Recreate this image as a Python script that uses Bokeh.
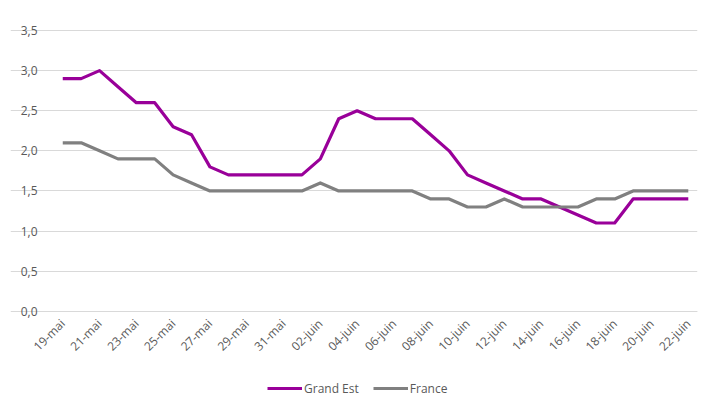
from bokeh.plotting import figure
from bokeh.models import FixedTicker, Legend, LegendItem, Range1d, LinearAxis, Grid
from bokeh.embed import file_html
from bokeh.resources import INLINE
import math

dates = ["19-mai", "20-mai", "21-mai", "22-mai", "23-mai", "24-mai", "25-mai", "26-mai",
         "27-mai", "28-mai", "29-mai", "30-mai", "31-mai", "01-juin", "02-juin", "03-juin",
         "04-juin", "05-juin", "06-juin", "07-juin", "08-juin", "09-juin", "10-juin", "11-juin",
         "12-juin", "13-juin", "14-juin", "15-juin", "16-juin", "17-juin", "18-juin", "19-juin",
         "20-juin", "21-juin", "22-juin"]
grand_est = [2.9, 2.9, 3.0, 2.8, 2.6, 2.6, 2.3, 2.2, 1.8, 1.7, 1.7, 1.7, 1.7, 1.7, 1.9, 2.4,
             2.5, 2.4, 2.4, 2.4, 2.2, 2.0, 1.7, 1.6, 1.5, 1.4, 1.4, 1.3, 1.2, 1.1, 1.1, 1.4,
             1.4, 1.4, 1.4]
france = [2.1, 2.1, 2.0, 1.9, 1.9, 1.9, 1.7, 1.6, 1.5, 1.5, 1.5, 1.5, 1.5, 1.5, 1.6, 1.5,
          1.5, 1.5, 1.5, 1.5, 1.4, 1.4, 1.3, 1.3, 1.4, 1.3, 1.3, 1.3, 1.3, 1.4, 1.4, 1.5,
          1.5, 1.5, 1.5]
y_ticks = [0.0, 0.5, 1.0, 1.5, 2.0, 2.5, 3.0, 3.5]

x = list(range(len(dates)))
x_lo, x_hi = -0.5, len(dates) - 0.5

# frame extends around the plot area so that axis labels and legend fit inside it
p = figure(frame_width=687, frame_height=387, output_backend="svg", toolbar_location=None,
           x_range=Range1d(x_lo - 2.34, x_hi), y_range=Range1d(-1.2, 3.625),
           x_axis_location=None, y_axis_location=None,
           min_border_left=10, min_border_right=3, min_border_top=20, min_border_bottom=0)

p.outline_line_color = None
p.background_fill_color = "white"
p.grid.visible = False

label_color = "#595959"
fsize = "12px"

# y axis, fixed at the left edge of the plot area
yaxis = LinearAxis(fixed_location=x_lo, bounds=(0, 3.5))
yaxis.ticker = FixedTicker(ticks=y_ticks)
yaxis.major_label_overrides = {t: f"{t:.1f}".replace(".", ",") for t in y_ticks}
yaxis.axis_line_color = None
yaxis.major_tick_line_color = None
yaxis.minor_tick_line_color = None
yaxis.major_label_text_color = label_color
yaxis.major_label_text_font = "Open Sans"
yaxis.major_label_text_font_size = fsize
yaxis.major_label_standoff = 10
p.add_layout(yaxis, "left")

# x axis, fixed at y = 0
xt = list(range(0, len(dates), 2))
xaxis = LinearAxis(fixed_location=0, bounds=(x_lo, x_hi))
xaxis.ticker = FixedTicker(ticks=xt)
xaxis.major_label_overrides = {i: dates[i] for i in xt}
xaxis.major_label_orientation = math.pi / 4
xaxis.axis_line_color = "#d9d9d9"
xaxis.major_tick_line_color = None
xaxis.minor_tick_line_color = None
xaxis.major_label_text_color = label_color
xaxis.major_label_text_font = "Open Sans"
xaxis.major_label_text_font_size = fsize
xaxis.major_label_standoff = 4
p.add_layout(xaxis, "below")

ygrid = Grid(dimension=1, ticker=FixedTicker(ticks=y_ticks), bounds=(x_lo, x_hi),
             grid_line_color="#d9d9d9", grid_line_width=1)
p.add_layout(ygrid)

r1 = p.line(x, grand_est, line_color="#990099", line_width=3.2, line_join="round")
r2 = p.line(x, france, line_color="#808080", line_width=3.2, line_join="round")

legend = Legend(items=[LegendItem(label="Grand Est", renderers=[r1]),
                       LegendItem(label="France", renderers=[r2])],
                orientation="horizontal", location=(257, 9),
                label_text_font="Open Sans", label_text_font_size=fsize,
                label_text_color=label_color, border_line_color=None,
                background_fill_alpha=0,
                glyph_width=35, spacing=14, label_standoff=2, margin=0, padding=2)
p.add_layout(legend, "center")

open("out.html", "w").write(file_html(p, INLINE))
